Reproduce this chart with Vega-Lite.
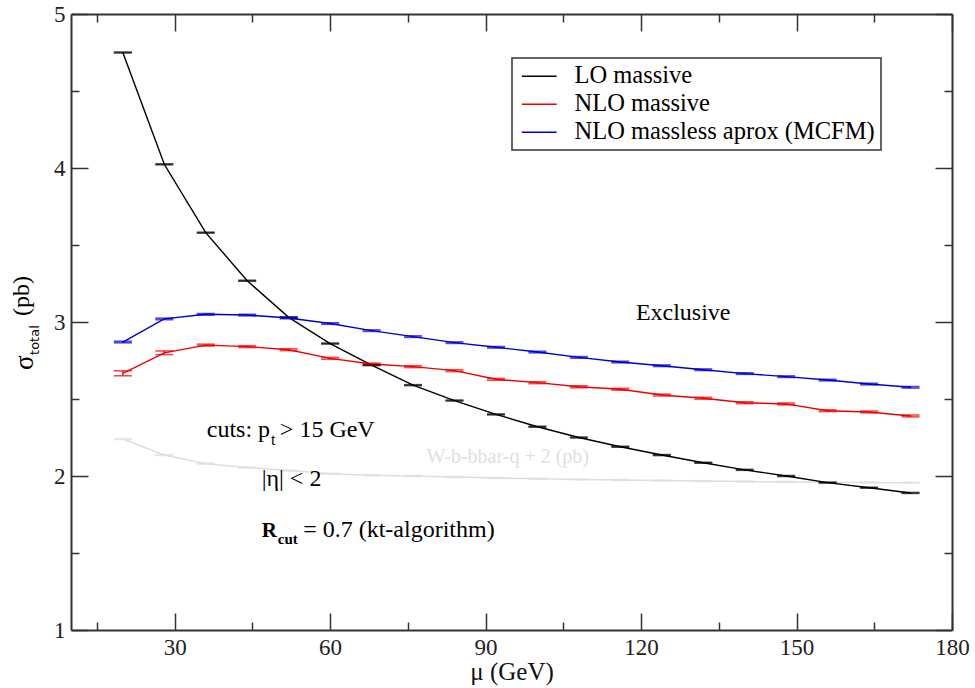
{
  "$schema": "https://vega.github.io/schema/vega-lite/v6.json",
  "width": 881,
  "height": 616,
  "autosize": "none",
  "padding": {"left": 71, "top": 14, "right": 23, "bottom": 58},
  "background": "white",
  "config": {
    "view": {"stroke": null},
    "font": "Liberation Serif",
    "legend": {"strokeWidth": 1.5}
  },
  "datasets": {
    "curves": [
      {"s": "LO massive", "mu": 20, "v": 4.75, "lo": 4.747, "hi": 4.753},
      {"s": "LO massive", "mu": 28, "v": 4.024, "lo": 4.021, "hi": 4.027},
      {"s": "LO massive", "mu": 36, "v": 3.58, "lo": 3.577, "hi": 3.583},
      {"s": "LO massive", "mu": 44, "v": 3.268, "lo": 3.265, "hi": 3.271},
      {"s": "LO massive", "mu": 52, "v": 3.03, "lo": 3.027, "hi": 3.033},
      {"s": "LO massive", "mu": 60, "v": 2.86, "lo": 2.857, "hi": 2.863},
      {"s": "LO massive", "mu": 68, "v": 2.72, "lo": 2.717, "hi": 2.723},
      {"s": "LO massive", "mu": 76, "v": 2.59, "lo": 2.587, "hi": 2.593},
      {"s": "LO massive", "mu": 84, "v": 2.49, "lo": 2.487, "hi": 2.493},
      {"s": "LO massive", "mu": 92, "v": 2.40, "lo": 2.397, "hi": 2.403},
      {"s": "LO massive", "mu": 100, "v": 2.32, "lo": 2.317, "hi": 2.323},
      {"s": "LO massive", "mu": 108, "v": 2.25, "lo": 2.247, "hi": 2.253},
      {"s": "LO massive", "mu": 116, "v": 2.19, "lo": 2.187, "hi": 2.193},
      {"s": "LO massive", "mu": 124, "v": 2.136, "lo": 2.133, "hi": 2.139},
      {"s": "LO massive", "mu": 132, "v": 2.086, "lo": 2.083, "hi": 2.089},
      {"s": "LO massive", "mu": 140, "v": 2.04, "lo": 2.037, "hi": 2.043},
      {"s": "LO massive", "mu": 148, "v": 2.0, "lo": 1.997, "hi": 2.003},
      {"s": "LO massive", "mu": 156, "v": 1.957, "lo": 1.954, "hi": 1.96},
      {"s": "LO massive", "mu": 164, "v": 1.924, "lo": 1.921, "hi": 1.927},
      {"s": "LO massive", "mu": 172, "v": 1.89, "lo": 1.887, "hi": 1.893},
      {"s": "NLO massive", "mu": 20, "v": 2.667, "lo": 2.651, "hi": 2.683},
      {"s": "NLO massive", "mu": 28, "v": 2.80, "lo": 2.788, "hi": 2.812},
      {"s": "NLO massive", "mu": 36, "v": 2.85, "lo": 2.844, "hi": 2.856},
      {"s": "NLO massive", "mu": 44, "v": 2.84, "lo": 2.834, "hi": 2.846},
      {"s": "NLO massive", "mu": 52, "v": 2.82, "lo": 2.814, "hi": 2.826},
      {"s": "NLO massive", "mu": 60, "v": 2.764, "lo": 2.758, "hi": 2.77},
      {"s": "NLO massive", "mu": 68, "v": 2.727, "lo": 2.721, "hi": 2.733},
      {"s": "NLO massive", "mu": 76, "v": 2.71, "lo": 2.704, "hi": 2.716},
      {"s": "NLO massive", "mu": 84, "v": 2.684, "lo": 2.678, "hi": 2.69},
      {"s": "NLO massive", "mu": 92, "v": 2.628, "lo": 2.622, "hi": 2.634},
      {"s": "NLO massive", "mu": 100, "v": 2.606, "lo": 2.6, "hi": 2.612},
      {"s": "NLO massive", "mu": 108, "v": 2.58, "lo": 2.574, "hi": 2.586},
      {"s": "NLO massive", "mu": 116, "v": 2.563, "lo": 2.557, "hi": 2.569},
      {"s": "NLO massive", "mu": 124, "v": 2.526, "lo": 2.52, "hi": 2.532},
      {"s": "NLO massive", "mu": 132, "v": 2.505, "lo": 2.499, "hi": 2.511},
      {"s": "NLO massive", "mu": 140, "v": 2.476, "lo": 2.47, "hi": 2.482},
      {"s": "NLO massive", "mu": 148, "v": 2.468, "lo": 2.462, "hi": 2.474},
      {"s": "NLO massive", "mu": 156, "v": 2.424, "lo": 2.418, "hi": 2.43},
      {"s": "NLO massive", "mu": 164, "v": 2.416, "lo": 2.41, "hi": 2.422},
      {"s": "NLO massive", "mu": 172, "v": 2.39, "lo": 2.384, "hi": 2.396},
      {"s": "NLO massless aprox (MCFM)", "mu": 20, "v": 2.87, "lo": 2.865, "hi": 2.875},
      {"s": "NLO massless aprox (MCFM)", "mu": 28, "v": 3.02, "lo": 3.015, "hi": 3.025},
      {"s": "NLO massless aprox (MCFM)", "mu": 36, "v": 3.05, "lo": 3.045, "hi": 3.055},
      {"s": "NLO massless aprox (MCFM)", "mu": 44, "v": 3.045, "lo": 3.04, "hi": 3.05},
      {"s": "NLO massless aprox (MCFM)", "mu": 52, "v": 3.026, "lo": 3.021, "hi": 3.031},
      {"s": "NLO massless aprox (MCFM)", "mu": 60, "v": 2.99, "lo": 2.985, "hi": 2.995},
      {"s": "NLO massless aprox (MCFM)", "mu": 68, "v": 2.944, "lo": 2.939, "hi": 2.949},
      {"s": "NLO massless aprox (MCFM)", "mu": 76, "v": 2.905, "lo": 2.9, "hi": 2.91},
      {"s": "NLO massless aprox (MCFM)", "mu": 84, "v": 2.866, "lo": 2.861, "hi": 2.871},
      {"s": "NLO massless aprox (MCFM)", "mu": 92, "v": 2.836, "lo": 2.831, "hi": 2.841},
      {"s": "NLO massless aprox (MCFM)", "mu": 100, "v": 2.805, "lo": 2.8, "hi": 2.81},
      {"s": "NLO massless aprox (MCFM)", "mu": 108, "v": 2.77, "lo": 2.765, "hi": 2.775},
      {"s": "NLO massless aprox (MCFM)", "mu": 116, "v": 2.74, "lo": 2.735, "hi": 2.745},
      {"s": "NLO massless aprox (MCFM)", "mu": 124, "v": 2.716, "lo": 2.711, "hi": 2.721},
      {"s": "NLO massless aprox (MCFM)", "mu": 132, "v": 2.69, "lo": 2.685, "hi": 2.695},
      {"s": "NLO massless aprox (MCFM)", "mu": 140, "v": 2.665, "lo": 2.66, "hi": 2.67},
      {"s": "NLO massless aprox (MCFM)", "mu": 148, "v": 2.645, "lo": 2.64, "hi": 2.65},
      {"s": "NLO massless aprox (MCFM)", "mu": 156, "v": 2.623, "lo": 2.618, "hi": 2.628},
      {"s": "NLO massless aprox (MCFM)", "mu": 164, "v": 2.597, "lo": 2.592, "hi": 2.602},
      {"s": "NLO massless aprox (MCFM)", "mu": 172, "v": 2.576, "lo": 2.571, "hi": 2.581}
    ],
    "gray": [
      {"mu": 20, "v": 2.24, "lo": 2.237, "hi": 2.243},
      {"mu": 28, "v": 2.136, "lo": 2.133, "hi": 2.139},
      {"mu": 36, "v": 2.08, "lo": 2.077, "hi": 2.083},
      {"mu": 44, "v": 2.055, "lo": 2.052, "hi": 2.058},
      {"mu": 52, "v": 2.035, "lo": 2.032, "hi": 2.038},
      {"mu": 60, "v": 2.015, "lo": 2.012, "hi": 2.018},
      {"mu": 68, "v": 2.005, "lo": 2.002, "hi": 2.008},
      {"mu": 76, "v": 2.0, "lo": 1.997, "hi": 2.003},
      {"mu": 84, "v": 1.993, "lo": 1.99, "hi": 1.996},
      {"mu": 92, "v": 1.987, "lo": 1.984, "hi": 1.99},
      {"mu": 100, "v": 1.982, "lo": 1.979, "hi": 1.985},
      {"mu": 108, "v": 1.978, "lo": 1.975, "hi": 1.981},
      {"mu": 116, "v": 1.974, "lo": 1.971, "hi": 1.977},
      {"mu": 124, "v": 1.97, "lo": 1.967, "hi": 1.973},
      {"mu": 132, "v": 1.967, "lo": 1.964, "hi": 1.97},
      {"mu": 140, "v": 1.964, "lo": 1.961, "hi": 1.967},
      {"mu": 148, "v": 1.962, "lo": 1.959, "hi": 1.965},
      {"mu": 156, "v": 1.96, "lo": 1.957, "hi": 1.963},
      {"mu": 164, "v": 1.958, "lo": 1.955, "hi": 1.961},
      {"mu": 172, "v": 1.956, "lo": 1.953, "hi": 1.959}
    ]
  },
  "resolve": {"axis": {"x": "independent", "y": "independent"}},
  "layer": [
    {
      "data": {"name": "gray"},
      "mark": {"type": "line", "color": "#dedede", "strokeWidth": 1.5},
      "encoding": {
        "x": {"field": "mu", "type": "quantitative", "scale": {"domain": [10, 180], "nice": false, "zero": false},
          "axis": {"orient": "bottom", "values": [30, 60, 90, 120, 150, 180], "tickSize": -17, "tickWidth": 1.5, "tickColor": "#333", "domainColor": "#333", "domainWidth": 2, "labelFont": "Liberation Serif", "labelFontSize": 23, "labelColor": "#222", "labelPadding": 23, "labelFlush": false, "labelOverlap": false, "grid": false, "title": "μ (GeV)", "titleFont": "Liberation Serif", "titleFontSize": 25, "titleFontWeight": "normal", "titleColor": "#111", "titlePadding": 0}},
        "y": {"field": "v", "type": "quantitative", "scale": {"domain": [1, 5], "nice": false, "zero": false},
          "axis": {"orient": "left", "values": [1, 2, 3, 4, 5], "tickSize": -17, "tickWidth": 1.5, "tickColor": "#333", "domainColor": "#333", "domainWidth": 2, "labelFont": "Liberation Serif", "labelFontSize": 23, "labelColor": "#222", "labelPadding": 23, "labelFlush": false, "labelOverlap": false, "grid": false, "title": null}}
      }
    },
    {
      "data": {"name": "gray"},
      "mark": {"type": "tick", "orient": "horizontal", "color": "#dedede", "size": 18, "thickness": 1.5},
      "encoding": {
        "x": {"field": "mu", "type": "quantitative", "scale": {"domain": [10, 180], "nice": false, "zero": false},
          "axis": {"orient": "bottom", "values": [15, 45, 75, 105, 135, 165], "tickSize": -8, "tickWidth": 1.5, "tickColor": "#333", "domain": false, "labels": false, "grid": false, "title": null}},
        "y": {"field": "lo", "type": "quantitative", "scale": {"domain": [1, 5], "nice": false, "zero": false},
          "axis": {"orient": "left", "values": [1.5, 2.5, 3.5, 4.5], "tickSize": -8, "tickWidth": 1.5, "tickColor": "#333", "domain": false, "labels": false, "grid": false, "title": null}}
      }
    },
    {
      "data": {"name": "gray"},
      "mark": {"type": "tick", "orient": "horizontal", "color": "#dedede", "size": 18, "thickness": 1.5},
      "encoding": {
        "x": {"field": "mu", "type": "quantitative", "scale": {"domain": [10, 180], "nice": false, "zero": false}, "axis": null},
        "y": {"field": "hi", "type": "quantitative", "scale": {"domain": [1, 5], "nice": false, "zero": false}, "axis": null}
      }
    },
    {
      "data": {"name": "curves"},
      "mark": {"type": "line", "strokeWidth": 1.4},
      "encoding": {
        "x": {"field": "mu", "type": "quantitative", "scale": {"domain": [10, 180], "nice": false, "zero": false},
          "axis": {"orient": "top", "values": [30, 60, 90, 120, 150, 180], "tickSize": -17, "tickWidth": 1.5, "tickColor": "#333", "domainColor": "#333", "domainWidth": 2, "labels": false, "grid": false, "title": null}},
        "y": {"field": "v", "type": "quantitative", "scale": {"domain": [1, 5], "nice": false, "zero": false},
          "axis": {"orient": "right", "values": [1, 2, 3, 4, 5], "tickSize": -17, "tickWidth": 1.5, "tickColor": "#333", "domainColor": "#333", "domainWidth": 2, "labels": false, "grid": false, "title": null}},
        "color": {"field": "s", "type": "nominal",
          "scale": {"domain": ["LO massive", "NLO massive", "NLO massless aprox (MCFM)"], "range": ["#000000", "#ee0000", "#0000cc"]},
          "legend": {"orient": "none", "legendX": 441, "legendY": 44, "title": null, "symbolType": "M-2.9,0H2.9", "symbolSize": 144, "symbolStrokeWidth": 1.5, "labelFont": "Liberation Serif", "labelFontSize": 24.5, "labelColor": "#000", "labelLimit": 500, "labelOffset": 23, "padding": 6, "symbolOffset": 9, "rowPadding": 3, "strokeColor": "#333", "fillColor": "white"}}
      }
    },
    {
      "data": {"name": "curves"},
      "mark": {"type": "tick", "orient": "horizontal", "size": 18, "thickness": 1.6},
      "encoding": {
        "x": {"field": "mu", "type": "quantitative", "scale": {"domain": [10, 180], "nice": false, "zero": false},
          "axis": {"orient": "top", "values": [15, 45, 75, 105, 135, 165], "tickSize": -8, "tickWidth": 1.5, "tickColor": "#333", "domain": false, "labels": false, "grid": false, "title": null}},
        "y": {"field": "lo", "type": "quantitative", "scale": {"domain": [1, 5], "nice": false, "zero": false},
          "axis": {"orient": "right", "values": [1.5, 2.5, 3.5, 4.5], "tickSize": -8, "tickWidth": 1.5, "tickColor": "#333", "domain": false, "labels": false, "grid": false, "title": null}},
        "color": {"field": "s", "type": "nominal", "legend": null}
      }
    },
    {
      "data": {"name": "curves"},
      "mark": {"type": "tick", "orient": "horizontal", "size": 18, "thickness": 1.6},
      "encoding": {
        "x": {"field": "mu", "type": "quantitative", "scale": {"domain": [10, 180], "nice": false, "zero": false}, "axis": null},
        "y": {"field": "hi", "type": "quantitative", "scale": {"domain": [1, 5], "nice": false, "zero": false}, "axis": null},
        "color": {"field": "s", "type": "nominal", "legend": null}
      }
    },
    {
      "data": {"name": "curves"},
      "mark": {"type": "rule", "strokeWidth": 1.2},
      "encoding": {
        "x": {"field": "mu", "type": "quantitative", "scale": {"domain": [10, 180], "nice": false, "zero": false}, "axis": null},
        "y": {"field": "lo", "type": "quantitative", "scale": {"domain": [1, 5], "nice": false, "zero": false}, "axis": null},
        "y2": {"field": "hi"},
        "color": {"field": "s", "type": "nominal", "legend": null}
      }
    },
    {
      "data": {"values": [
        {"t": "cuts: p", "mu": 36.2, "v": 2.255},
        {"t": "> 15 GeV", "mu": 50.3, "v": 2.255},
        {"t": "|η| < 2", "mu": 46.8, "v": 1.935},
        {"t": "= 0.7 (kt-algorithm)", "mu": 54.8, "v": 1.606},
        {"t": "Exclusive", "mu": 119.0, "v": 3.013}
      ]},
      "mark": {"type": "text", "align": "left", "baseline": "alphabetic", "font": "Liberation Serif", "fontSize": 24, "color": "#000"},
      "encoding": {
        "x": {"field": "mu", "type": "quantitative", "scale": {"domain": [10, 180], "nice": false, "zero": false}, "axis": null},
        "y": {"field": "v", "type": "quantitative", "scale": {"domain": [1, 5], "nice": false, "zero": false}, "axis": null},
        "text": {"field": "t"}
      }
    },
    {
      "data": {"values": [{"t": "t", "mu": 48.6, "v": 2.201}]},
      "mark": {"type": "text", "align": "left", "baseline": "alphabetic", "font": "Liberation Serif", "fontSize": 16, "color": "#000"},
      "encoding": {
        "x": {"field": "mu", "type": "quantitative", "scale": {"domain": [10, 180], "nice": false, "zero": false}, "axis": null},
        "y": {"field": "v", "type": "quantitative", "scale": {"domain": [1, 5], "nice": false, "zero": false}, "axis": null},
        "text": {"field": "t"}
      }
    },
    {
      "data": {"values": [{"t": "R", "mu": 46.8, "v": 1.606}]},
      "mark": {"type": "text", "align": "left", "baseline": "alphabetic", "font": "Liberation Serif", "fontSize": 21, "fontWeight": "bold", "color": "#000"},
      "encoding": {
        "x": {"field": "mu", "type": "quantitative", "scale": {"domain": [10, 180], "nice": false, "zero": false}, "axis": null},
        "y": {"field": "v", "type": "quantitative", "scale": {"domain": [1, 5], "nice": false, "zero": false}, "axis": null},
        "text": {"field": "t"}
      }
    },
    {
      "data": {"values": [{"t": "cut", "mu": 49.9, "v": 1.558}]},
      "mark": {"type": "text", "align": "left", "baseline": "alphabetic", "font": "Liberation Serif", "fontSize": 15, "fontWeight": "bold", "color": "#000"},
      "encoding": {
        "x": {"field": "mu", "type": "quantitative", "scale": {"domain": [10, 180], "nice": false, "zero": false}, "axis": null},
        "y": {"field": "v", "type": "quantitative", "scale": {"domain": [1, 5], "nice": false, "zero": false}, "axis": null},
        "text": {"field": "t"}
      }
    },
    {
      "data": {"values": [{"t": "W-b-bbar-q + 2 (pb)", "mu": 78.6, "v": 2.084}]},
      "mark": {"type": "text", "align": "left", "baseline": "alphabetic", "font": "Liberation Serif", "fontSize": 20, "color": "#e0e0e0"},
      "encoding": {
        "x": {"field": "mu", "type": "quantitative", "scale": {"domain": [10, 180], "nice": false, "zero": false}, "axis": null},
        "y": {"field": "v", "type": "quantitative", "scale": {"domain": [1, 5], "nice": false, "zero": false}, "axis": null},
        "text": {"field": "t"}
      }
    },
    {
      "data": {"values": [{"t": "σ", "mu": 2.67, "v": 2.688}]},
      "mark": {"type": "text", "align": "left", "baseline": "alphabetic", "angle": 270, "font": "Liberation Serif", "fontSize": 27, "color": "#000"},
      "encoding": {
        "x": {"field": "mu", "type": "quantitative", "scale": {"domain": [10, 180], "nice": false, "zero": false}, "axis": null},
        "y": {"field": "v", "type": "quantitative", "scale": {"domain": [1, 5], "nice": false, "zero": false}, "axis": null},
        "text": {"field": "t"}
      }
    },
    {
      "data": {"values": [{"t": "total", "mu": 3.73, "v": 2.786}]},
      "mark": {"type": "text", "align": "left", "baseline": "alphabetic", "angle": 270, "font": "DejaVu Sans", "fontSize": 13, "color": "#000"},
      "encoding": {
        "x": {"field": "mu", "type": "quantitative", "scale": {"domain": [10, 180], "nice": false, "zero": false}, "axis": null},
        "y": {"field": "v", "type": "quantitative", "scale": {"domain": [1, 5], "nice": false, "zero": false}, "axis": null},
        "text": {"field": "t"}
      }
    },
    {
      "data": {"values": [{"t": "(pb)", "mu": 1.9, "v": 3.039}]},
      "mark": {"type": "text", "align": "left", "baseline": "alphabetic", "angle": 270, "font": "Liberation Serif", "fontSize": 24, "color": "#000"},
      "encoding": {
        "x": {"field": "mu", "type": "quantitative", "scale": {"domain": [10, 180], "nice": false, "zero": false}, "axis": null},
        "y": {"field": "v", "type": "quantitative", "scale": {"domain": [1, 5], "nice": false, "zero": false}, "axis": null},
        "text": {"field": "t"}
      }
    }
  ]
}
